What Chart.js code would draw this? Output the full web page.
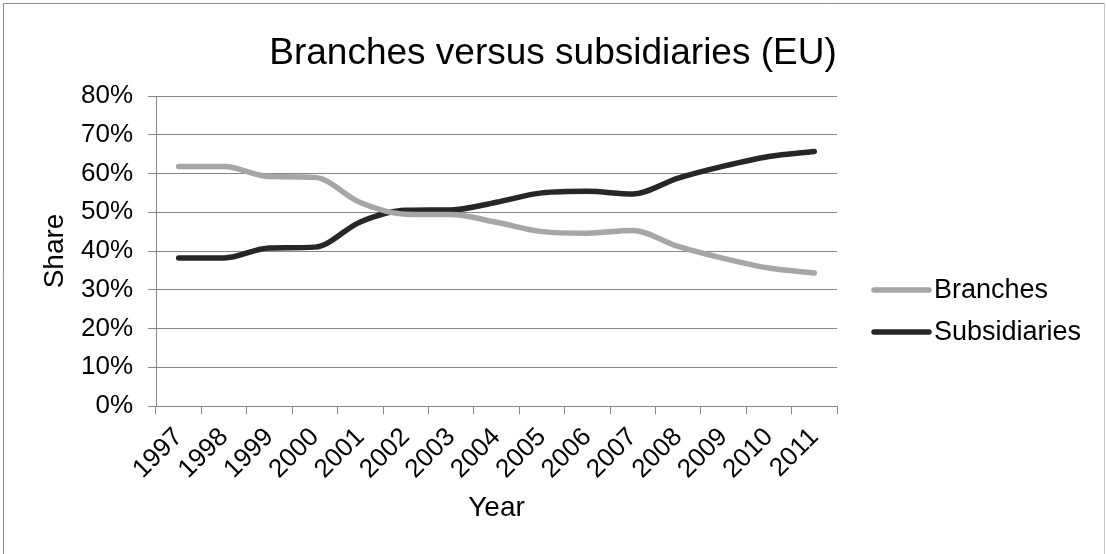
<!DOCTYPE html>
<html>
<head>
<meta charset="utf-8">
<title>Branches versus subsidiaries (EU)</title>
<script src="https://cdn.jsdelivr.net/npm/chart.js@4.4.1/dist/chart.umd.min.js"></script>
<style>
  html, body { margin: 0; padding: 0; background: #fff; }
  #wrap { width: 1106px; height: 554px; }
</style>
</head>
<body>
<div id="wrap"><canvas id="chartShare" width="1106" height="554"></canvas></div>
<script>
var years = ["1997", "1998", "1999", "2000", "2001", "2002", "2003", "2004",
             "2005", "2006", "2007", "2008", "2009", "2010", "2011"];
var branches = [61.8, 61.8, 59.2, 59.0, 52.5, 49.5, 49.4, 47.4, 45.0, 44.6, 45.3, 41.2, 38.1, 35.6, 34.3];
var subsidiaries = [38.2, 38.2, 40.8, 41.0, 47.5, 50.5, 50.6, 52.6, 55.0, 55.4, 54.7, 58.8, 61.9, 64.4, 65.7];
var shareTicks = [0, 10, 20, 30, 40, 50, 60, 70, 80];

var FONT = "'Liberation Sans', Arial, sans-serif";
var AXIS_GREY = '#868686';

(function () {
  document.addEventListener("DOMContentLoaded", init)
  function init() {

    // frame around the whole picture
    var framePlugin = {
      id: 'frame',
      beforeDraw: function (chart) {
        var ctx = chart.ctx;
        ctx.save();
        ctx.fillStyle = '#fff';
        ctx.fillRect(0, 0, chart.width, chart.height);
        ctx.lineWidth = 1;
        ctx.strokeStyle = '#8c8c8c';
        ctx.beginPath();
        ctx.moveTo(3.5, chart.height);
        ctx.lineTo(3.5, 3.5);
        ctx.lineTo(chart.width - 1.5, 3.5);
        ctx.stroke();
        ctx.strokeStyle = '#c8c8c8';
        ctx.beginPath();
        ctx.moveTo(chart.width - 1.5, 3.5);
        ctx.lineTo(chart.width - 1.5, chart.height);
        ctx.stroke();
        ctx.restore();
      }
    };

    // legend on the right, line sample followed by the series name
    var sideLegend = {
      id: 'sideLegend',
      afterDraw: function (chart) {
        var ctx = chart.ctx;
        var area = chart.chartArea;
        var x0 = area.right + 37;
        var y0 = (area.top + area.bottom) / 2 + 39;
        ctx.save();
        chart.data.datasets.forEach(function (ds, i) {
          var y = y0 + i * 42;
          ctx.strokeStyle = ds.borderColor;
          ctx.lineWidth = ds.borderWidth;
          ctx.lineCap = 'round';
          ctx.beginPath();
          ctx.moveTo(x0, y);
          ctx.lineTo(x0 + 55, y);
          ctx.stroke();
          ctx.fillStyle = '#000';
          ctx.font = '27px ' + FONT;
          ctx.textBaseline = 'middle';
          ctx.textAlign = 'left';
          ctx.fillText(ds.label, x0 + 60, y + 1);
        });
        ctx.restore();
      }
    };

    var ctx = document.getElementById('chartShare').getContext('2d');
    var chartShare = new Chart(ctx, {
      type: 'line',
      data: {
        labels: years,
        datasets: [{
          label: "Branches",
          borderColor: '#a6a6a6',
          backgroundColor: '#a6a6a6',
          borderWidth: 5.5,
          data: branches
        }, {
          label: "Subsidiaries",
          borderColor: '#262626',
          backgroundColor: '#262626',
          borderWidth: 5.5,
          data: subsidiaries
        }]
      },
      options: {
        responsive: false,
        devicePixelRatio: 1,
        animation: false,
        layout: { padding: 0 },
        elements: {
          point: { radius: 0, hoverRadius: 0 },
          line: {
            cubicInterpolationMode: 'monotone',
            borderCapStyle: 'round',
            borderJoinStyle: 'round',
            fill: false
          }
        },
        plugins: {
          legend: { display: false },
          tooltip: { enabled: false },
          title: {
            display: true,
            text: 'Branches versus subsidiaries (EU)',
            color: '#000',
            font: { family: FONT, size: 37, weight: 'normal' },
            padding: { top: 32, bottom: 19.6 }
          }
        },
        scales: {
          x: {
            type: 'category',
            offset: true,
            grid: {
              offset: true,
              drawOnChartArea: false,
              drawTicks: true,
              tickLength: 8,
              color: AXIS_GREY
            },
            border: { display: true, color: AXIS_GREY, width: 1 },
            ticks: {
              autoSkip: false,
              minRotation: 45,
              maxRotation: 45,
              padding: 8,
              color: '#000',
              font: { family: FONT, size: 26 }
            },
            title: {
              display: true,
              text: 'Year',
              color: '#000',
              font: { family: FONT, size: 28 },
              padding: { top: 0, bottom: 29 }
            },
            afterFit: function (scale) { scale.height = 148; }
          },
          y: {
            min: 0,
            max: 80,
            afterBuildTicks: function (scale) {
              scale.ticks = shareTicks.map(function (v) { return { value: v }; });
            },
            grid: {
              color: AXIS_GREY,
              tickLength: 8,
              drawTicks: true
            },
            border: { display: true, color: AXIS_GREY, width: 1 },
            ticks: {
              padding: 15,
              color: '#000',
              font: { family: FONT, size: 26 },
              callback: function (v) { return v + '%'; }
            },
            title: {
              display: true,
              text: 'Share',
              color: '#000',
              font: { family: FONT, size: 28 },
              padding: { top: 38, bottom: 0 }
            },
            afterFit: function (scale) { scale.width = 156; }
          },
          // empty right-hand column that holds the legend
          legendSpace: {
            type: 'linear',
            position: 'right',
            display: true,
            grid: { display: false, drawTicks: false },
            border: { display: false },
            ticks: { display: false },
            afterFit: function (scale) { scale.width = 269; }
          }
        }
      },
      plugins: [framePlugin, sideLegend]
    });
  }
})();
</script>
</body>
</html>
